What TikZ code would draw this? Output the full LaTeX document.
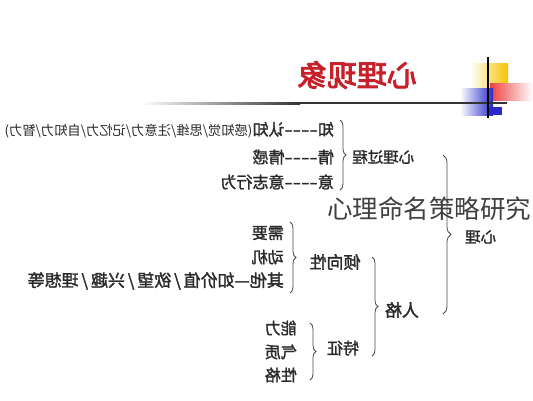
\documentclass[tikz,border=0pt]{standalone}
\usepackage{fontspec}
\usepackage{graphicx}
\usetikzlibrary{decorations.pathreplacing}
\newfontfamily\cjk[AutoFakeBold=1.6]{Noto Sans CJK SC}
\newfontfamily\cjkb[AutoFakeBold=3]{Noto Sans CJK SC}
\definecolor{txt}{HTML}{2A2A2A}
\definecolor{ttl}{HTML}{C8202A}
\definecolor{lgyel}{HTML}{F5C400}
\definecolor{lgred}{HTML}{EE4040}
\definecolor{lgblu}{HTML}{2A2ACC}
\newcommand{\mr}[1]{\reflectbox{#1}}
\newcommand{\dsh}{\scalebox{1.5}[1]{----}}
\newcommand{\slsp}{\,/\,}
\tikzset{
  lbl/.style={inner sep=0pt, text=txt, font=\cjk\bfseries\fontsize{16}{16}\selectfont},
  brc/.style={draw=txt!85, line width=0.8pt, decorate,
              decoration={brace, amplitude=6pt}},
}
\begin{document}
\begin{tikzpicture}[x=1pt,y=-1pt]
\useasboundingbox (0,0) rectangle (533,400);
\fill[white] (0,0) rectangle (533,400);
% logo
\shade[left color=white, right color=lgyel] (470,63) rectangle (508,87);
\shade[left color=lgred, right color=white] (490,83) rectangle (533,100);
\shade[left color=white, right color=lgblu] (460,88) rectangle (493,115);
\fill[lgblu] (488,107) rectangle (502,115);
\shade[left color=white, right color=black!80] (140,102.3) rectangle (300,104.3);
\fill[black!80] (299.5,102.3) rectangle (507,104.3);
\draw[black, line width=1.4pt] (488,57) -- (488,118);
% title
\node[font=\cjkb\bfseries\fontsize{30}{30}\selectfont, text=ttl, inner sep=0pt] (title) at (357,75) {\mr{心理现象}};
% cognition
\node[lbl, anchor=east] (zhi) at (334,130) {\mr{知\dsh 认知\fontsize{13.3}{13.3}\selectfont\mdseries(感知觉/思维/注意力/记忆力/自知力/智力)}};
\node[lbl, anchor=east] (qing) at (334,157) {\mr{情\dsh 情感}};
\node[lbl, anchor=east] (yi) at (334,182) {\mr{意\dsh 意志行为}};
\coordinate (b1t) at (340,120);
\coordinate (b1b) at (340,190);
\draw[brc] (b1t) -- (b1b);
\node[lbl, anchor=west, font=\cjk\bfseries\fontsize{15.5}{15.5}\selectfont] (guocheng) at (352,157) {\mr{心理过程}};
% big brace
\coordinate (b0t) at (443,155);
\coordinate (b0b) at (443,314);
\draw[brc, decoration={amplitude=8pt}] (b0t) -- (b0b);
\node[lbl, anchor=west, font=\cjk\bfseries\fontsize{15.5}{15.5}\selectfont] (xinli) at (465,237) {\mr{心理}};
% personality
\node[lbl, font=\cjk\bfseries\fontsize{17}{17}\selectfont] (qingxiang) at (335,262) {\mr{倾向性}};
\node[lbl, font=\cjk\bfseries\fontsize{17}{17}\selectfont] (renge) at (402,310) {\mr{人格}};
\node[lbl] (tezheng) at (343,348) {\mr{特征}};
\coordinate (b2t) at (372,257);
\coordinate (b2b) at (372,356);
\draw[brc] (b2t) -- (b2b);
\node[lbl, anchor=east] (xuyao) at (284,233) {\mr{需要}};
\node[lbl, anchor=east] (dongji) at (284,257) {\mr{动机}};
\node[lbl, anchor=east, font=\cjk\bfseries\fontsize{17}{17}\selectfont] (qita) at (284,281) {\mr{其他—如价值\slsp 欲望\slsp 兴趣\slsp 理想等}};
\coordinate (b3t) at (290,222);
\coordinate (b3b) at (290,293);
\draw[brc] (b3t) -- (b3b);
\node[lbl, anchor=east] (nengli) at (297,328) {\mr{能力}};
\node[lbl, anchor=east] (qizhi) at (297,352) {\mr{气质}};
\node[lbl, anchor=east] (xingge) at (297,375) {\mr{性格}};
\coordinate (b4t) at (310,323);
\coordinate (b4b) at (310,380);
\draw[brc] (b4t) -- (b4b);
% watermark
\node[anchor=west, inner sep=0pt, text=black!75, font=\cjk\fontsize{25.5}{25.5}\selectfont] (wm) at (327,209) {心理命名策略研究};
\end{tikzpicture}
\end{document}
